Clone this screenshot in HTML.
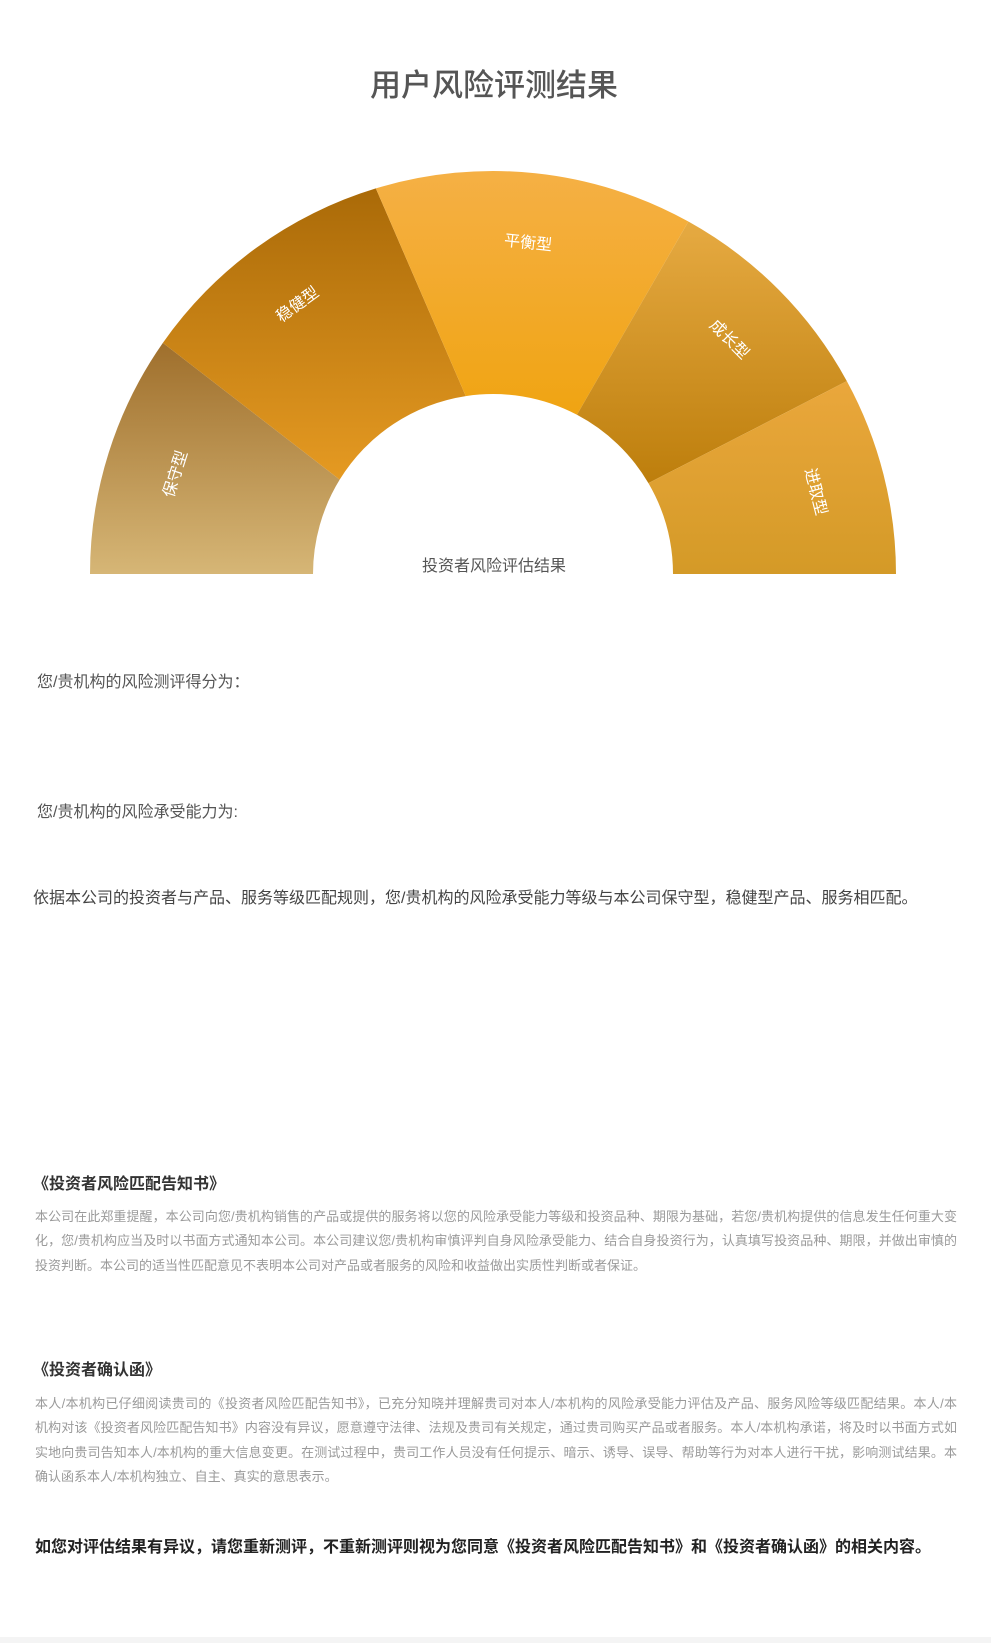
<!DOCTYPE html>
<html><head><meta charset="utf-8">
<style>
body{margin:0;width:991px;height:1643px;background:#fff;font-family:"Liberation Sans","Noto Sans CJK SC",sans-serif;position:relative;overflow:hidden}
.t{position:absolute;white-space:nowrap}
.p{position:absolute;left:35px;width:922px;font-size:13px;line-height:24.3px;color:#9a9a9a}
.p div{white-space:nowrap;text-align:justify;text-align-last:justify}
.p div.last{text-align-last:left}
</style></head><body>
<div class="t" style="left:0;width:988px;text-align:center;top:60px;font-size:31px;color:#555;font-weight:500">用户风险评测结果</div>
<svg id="chart" width="991" height="600" style="position:absolute;left:0;top:0">
<defs id="defs"></defs>
<g id="slices"></g>
<text x="494" y="571" text-anchor="middle" font-size="16" fill="#555" font-family="Liberation Sans, Noto Sans CJK SC, sans-serif">投资者风险评估结果</text>
</svg>
<div class="t" style="left:37px;top:668px;font-size:16px;color:#555">您/贵机构的风险测评得分为：</div>
<div class="t" style="left:37px;top:798px;font-size:16px;color:#555">您/贵机构的风险承受能力为:</div>
<div class="t" style="left:33px;top:884px;font-size:16px;color:#444">依据本公司的投资者与产品、服务等级匹配规则，您/贵机构的风险承受能力等级与本公司保守型，稳健型产品、服务相匹配。</div>
<div class="t" style="left:33px;top:1170px;font-size:16px;font-weight:bold;color:#333">《投资者风险匹配告知书》</div>
<div class="p" style="top:1205px">
<div>本公司在此郑重提醒，本公司向您/贵机构销售的产品或提供的服务将以您的风险承受能力等级和投资品种、期限为基础，若您/贵机构提供的信息发生任何重大变</div>
<div>化，您/贵机构应当及时以书面方式通知本公司。本公司建议您/贵机构审慎评判自身风险承受能力、结合自身投资行为，认真填写投资品种、期限，并做出审慎的</div>
<div class="last">投资判断。本公司的适当性匹配意见不表明本公司对产品或者服务的风险和收益做出实质性判断或者保证。</div>
</div>
<div class="t" style="left:33px;top:1356px;font-size:16px;font-weight:bold;color:#333">《投资者确认函》</div>
<div class="p" style="top:1392px">
<div>本人/本机构已仔细阅读贵司的《投资者风险匹配告知书》，已充分知晓并理解贵司对本人/本机构的风险承受能力评估及产品、服务风险等级匹配结果。本人/本</div>
<div>机构对该《投资者风险匹配告知书》内容没有异议，愿意遵守法律、法规及贵司有关规定，通过贵司购买产品或者服务。本人/本机构承诺，将及时以书面方式如</div>
<div>实地向贵司告知本人/本机构的重大信息变更。在测试过程中，贵司工作人员没有任何提示、暗示、诱导、误导、帮助等行为对本人进行干扰，影响测试结果。本</div>
<div class="last">确认函系本人/本机构独立、自主、真实的意思表示。</div>
</div>
<div class="t" style="left:35px;top:1533px;font-size:16px;font-weight:bold;color:#222">如您对评估结果有异议，请您重新测评，不重新测评则视为您同意《投资者风险匹配告知书》和《投资者确认函》的相关内容。</div>
<div style="position:absolute;left:0;top:1637px;width:991px;height:6px;background:#f4f4f4"></div>
<script>
const categories=["保守型","稳健型","平衡型","成长型","进取型"];
const outerBounds=[180,145,106.9,61,28.6,0];
const innerBounds=[180,148.4,98.7,62.2,30.3,0];
const topColors=["#9f6f2c","#aa6a08","#f5b045","#e6aa42","#eaa73c"];
const botColors=["#d6b676","#e59a22","#f0a412","#bd7e0c","#d49a27"];
const cx=493,cy=574,R=403,r=180,labelR=332;
const svgNS="http://www.w3.org/2000/svg";
const defs=document.getElementById('defs'),g=document.getElementById('slices');
function pt(rad,deg){const a=deg*Math.PI/180;return [cx+rad*Math.cos(a),cy-rad*Math.sin(a)];}
categories.forEach((c,i)=>{
  const o0=outerBounds[i],o1=outerBounds[i+1],i0=innerBounds[i],i1=innerBounds[i+1];
  const gr=document.createElementNS(svgNS,'linearGradient');
  gr.setAttribute('id','gr'+i);gr.setAttribute('x1','0');gr.setAttribute('y1','0');gr.setAttribute('x2','0');gr.setAttribute('y2','1');
  gr.innerHTML='<stop offset="0" stop-color="'+topColors[i]+'"/><stop offset="1" stop-color="'+botColors[i]+'"/>';
  defs.appendChild(gr);
  const p1=pt(R,o0),p2=pt(R,o1),p3=pt(r,i1),p4=pt(r,i0);
  const path=document.createElementNS(svgNS,'path');
  path.setAttribute('d',`M${p1[0]},${p1[1]} A${R},${R} 0 0 1 ${p2[0]},${p2[1]} L${p3[0]},${p3[1]} A${r},${r} 0 0 0 ${p4[0]},${p4[1]} Z`);
  path.setAttribute('fill','url(#gr'+i+')');
  
  
  g.appendChild(path);
  const mid=(o0+o1)/2,lp=pt(labelR,mid);
  const t=document.createElementNS(svgNS,'text');
  t.setAttribute('x',lp[0]);t.setAttribute('y',lp[1]);
  t.setAttribute('text-anchor','middle');t.setAttribute('dominant-baseline','middle');
  t.setAttribute('font-size','16');t.setAttribute('fill','#fff');
  t.setAttribute('font-family','Liberation Sans, Noto Sans CJK SC, sans-serif');
  t.setAttribute('transform',`rotate(${90-mid} ${lp[0]} ${lp[1]})`);
  t.textContent=c;
  
  
  g.appendChild(t);
});
</script>
</body></html>
